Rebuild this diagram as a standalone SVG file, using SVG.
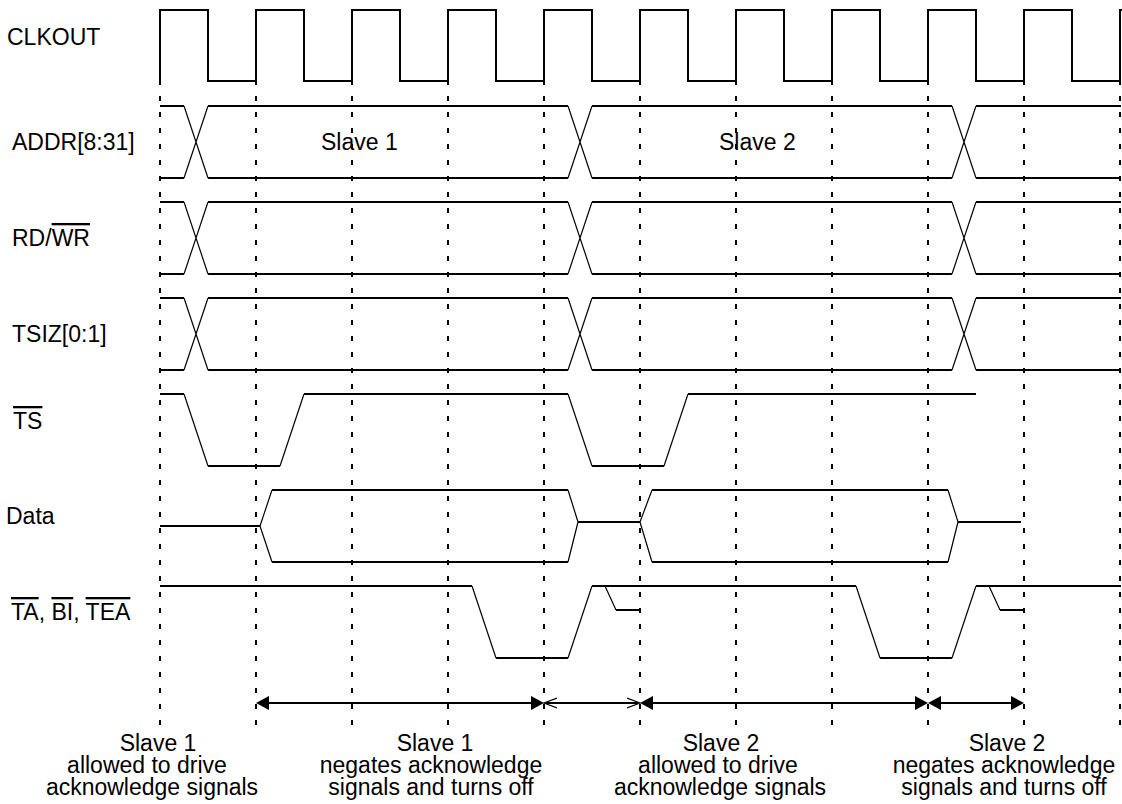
<svg xmlns="http://www.w3.org/2000/svg" width="1122" height="804" viewBox="0 0 1122 804">
<defs>
<style>
.sig{fill:none;stroke:#000;stroke-width:2}
.tr{fill:none;stroke:#000;stroke-width:1.2}
.grid{stroke:#000;stroke-width:2;stroke-dasharray:5 11}
.arr{stroke:#000;stroke-width:2;fill:none}
text{font-family:"Liberation Sans",Arial,sans-serif;font-size:23px;fill:#000}
.c{text-anchor:middle}
.ov{text-decoration:overline}
</style>
<marker id="af" markerWidth="14" markerHeight="14" refX="11" refY="7" orient="auto-start-reverse" markerUnits="userSpaceOnUse"><path d="M0,0 L13,7 L0,14 z" fill="#000"/></marker>
<marker id="ao" markerWidth="14" markerHeight="14" refX="11" refY="6" orient="auto-start-reverse" markerUnits="userSpaceOnUse"><path d="M0,1 L13,6 L0,11" fill="none" stroke="#000" stroke-width="1.3"/></marker>
</defs>
<rect width="1122" height="804" fill="#fff"/>

<g id="grid">
<path class="grid" d="M160,80V726M256,80V726M352,80V726M448,80V726M544,80V726M640,80V726M736,80V726M832,80V726M928,80V726M1024,80V726M1120,80V726"/>
</g>

<g id="clkout">
<text x="7" y="45">CLKOUT</text>
<path class="sig" d="M160,82V10H208V81H256V10H304V81H352V10H400V81H448V10H496V81H544V10H592V81H640V10H688V81H736V10H784V81H832V10H880V81H928V10H976V81H1024V10H1072V81H1120V10H1122"/>
</g>

<g id="addr">
<text x="12" y="150">ADDR[8:31]</text>
<path class="sig" d="M160,106H184M208,106H568M592,106H952M976,106H1121M160,178H184M208,178H568M592,178H952M976,178H1121"/>
<path class="tr" d="M184,106L208,178M184,178L208,106M568,106L592,178M568,178L592,106M952,106L976,178M952,178L976,106"/>
<text x="321" y="150">Slave 1</text>
<text x="719" y="150">Slave 2</text>
</g>

<g id="rdwr">
<text x="12" y="246">RD/<tspan class="ov">WR</tspan></text>
<path class="sig" d="M160,202H184M208,202H568M592,202H952M976,202H1121M160,274H184M208,274H568M592,274H952M976,274H1121"/>
<path class="tr" d="M184,202L208,274M184,274L208,202M568,202L592,274M568,274L592,202M952,202L976,274M952,274L976,202"/>
</g>

<g id="tsiz">
<text x="12" y="342">TSIZ[0:1]</text>
<path class="sig" d="M160,298H184M208,298H568M592,298H952M976,298H1121M160,370H184M208,370H568M592,370H952M976,370H1121"/>
<path class="tr" d="M184,298L208,370M184,370L208,298M568,298L592,370M568,370L592,298M952,298L976,370M952,370L976,298"/>
</g>

<g id="ts">
<text x="13" y="429"><tspan class="ov">TS</tspan></text>
<path class="sig" d="M160,394H184M208,466H280M304,394H568M592,466H664M688,394H976"/>
<path class="tr" d="M184,394L208,466M280,466L304,394M568,394L592,466M664,466L688,394"/>
</g>

<g id="data">
<text x="6" y="524">Data</text>
<path class="sig" d="M160,526H260M272,490H568M272,562H568M578,522H640M652,490H948M652,562H948M958,522H1021"/>
<path class="tr" d="M260,526L272,490M260,526L272,562M568,490L578,522M568,562L578,522M640,522L652,490M640,522L652,562M948,490L958,522M948,562L958,522"/>
</g>

<g id="ta">
<text x="11" y="620"><tspan class="ov">TA</tspan>, <tspan class="ov">BI</tspan>, <tspan class="ov">TEA</tspan></text>
<path class="sig" d="M160,586H472M496,658H568M592,586H856M880,658H952M976,586H1121M616,610H640M1000,610H1024"/>
<path class="tr" d="M472,586L496,658M568,658L592,586M856,586L880,658M952,658L976,586M605,586L616,610M989,586L1000,610"/>
</g>

<g id="connectors">
<line class="arr" x1="258" y1="703" x2="542" y2="703" marker-start="url(#af)" marker-end="url(#af)"/>
<line class="arr" x1="546" y1="703" x2="638" y2="703" marker-start="url(#ao)" marker-end="url(#ao)"/>
<line class="arr" x1="642" y1="703" x2="926" y2="703" marker-start="url(#af)" marker-end="url(#af)"/>
<line class="arr" x1="930" y1="703" x2="1022" y2="703" marker-start="url(#af)" marker-end="url(#af)"/>
</g>

<g id="label1">
<text class="c" x="158" y="751">Slave 1</text>
<text class="c" x="147" y="773">allowed to drive</text>
<text class="c" x="152" y="795">acknowledge signals</text>
</g>
<g id="label2">
<text class="c" x="435" y="751">Slave 1</text>
<text class="c" x="431" y="773">negates acknowledge</text>
<text class="c" x="431" y="795">signals and turns off</text>
</g>
<g id="label3">
<text class="c" x="721" y="751">Slave 2</text>
<text class="c" x="718" y="773">allowed to drive</text>
<text class="c" x="720" y="795">acknowledge signals</text>
</g>
<g id="label4">
<text class="c" x="1007" y="751">Slave 2</text>
<text class="c" x="1004" y="773">negates acknowledge</text>
<text class="c" x="1004" y="795">signals and turns off</text>
</g>
</svg>
